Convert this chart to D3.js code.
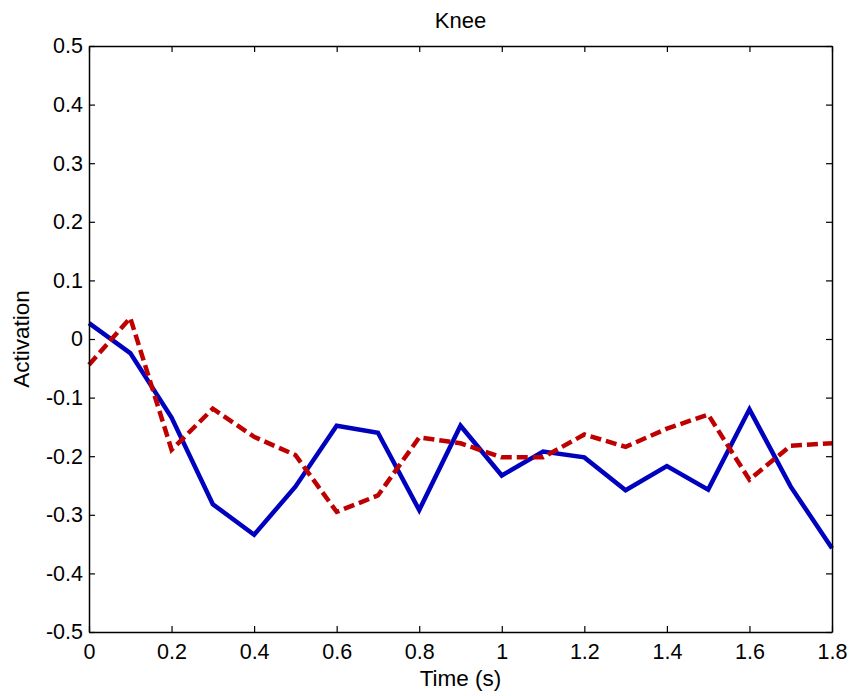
<!DOCTYPE html>
<html><head><meta charset="utf-8">
<script src="https://cdn.jsdelivr.net/npm/d3@7"></script>
<style>body{margin:0;background:#fff}svg{display:block}text{font-family:"Liberation Sans",Arial,sans-serif;fill:#000}</style>
</head><body><svg id="c" width="851" height="696"></svg>
<script>
const time = [0,0.1,0.2,0.3,0.4,0.5,0.6,0.7,0.8,0.9,1.0,1.1,1.2,1.3,1.4,1.5,1.6,1.7,1.8];
const solidSeries = [0.027,-0.024,-0.134,-0.282,-0.334,-0.252,-0.148,-0.160,-0.292,-0.148,-0.233,-0.192,-0.202,-0.258,-0.217,-0.257,-0.120,-0.252,-0.357];
const dashedSeries = [-0.044,0.036,-0.189,-0.119,-0.167,-0.198,-0.295,-0.267,-0.168,-0.178,-0.202,-0.202,-0.163,-0.184,-0.153,-0.129,-0.240,-0.182,-0.178];
const xTicks = [0,0.2,0.4,0.6,0.8,1,1.2,1.4,1.6,1.8];
const yTicks = [-0.5,-0.4,-0.3,-0.2,-0.1,0,0.1,0.2,0.3,0.4,0.5];

const svg = d3.select("#c");
const L=89, R=832, T=46, B=632;
const x = d3.scaleLinear().domain([0,1.8]).range([L,R]);
const y = d3.scaleLinear().domain([-0.5,0.5]).range([B,T]);
const fmt = d => String(+d.toFixed(1));

svg.append("rect").attr("x",L).attr("y",T).attr("width",R-L).attr("height",B-T).attr("fill","#fff");

const line = d3.line().x((d,i)=>x(time[i])).y(d=>y(d));
const g = svg.append("g");
g.append("path").datum(solidSeries).attr("d",line).attr("fill","none")
  .attr("stroke","#0000bf").attr("stroke-width",4.5).attr("stroke-linejoin","miter");
g.append("path").datum(dashedSeries).attr("d",line).attr("fill","none")
  .attr("stroke","#bf0000").attr("stroke-width",4.5).attr("stroke-dasharray","11,5");

const fs = "21.5px";
const axB = svg.append("g").attr("transform",`translate(0,${B})`)
  .call(d3.axisBottom(x).tickValues(xTicks).tickSizeInner(-6).tickSizeOuter(0).tickPadding(12).tickFormat(fmt));
const axT = svg.append("g").attr("transform",`translate(0,${T})`)
  .call(d3.axisTop(x).tickValues(xTicks).tickSizeInner(-6).tickSizeOuter(0).tickFormat(""));
const axL = svg.append("g").attr("transform",`translate(${L},0)`)
  .call(d3.axisLeft(y).tickValues(yTicks).tickSizeInner(-6).tickSizeOuter(0).tickPadding(6).tickFormat(fmt));
const axR = svg.append("g").attr("transform",`translate(${R},0)`)
  .call(d3.axisRight(y).tickValues(yTicks).tickSizeInner(-6).tickSizeOuter(0).tickFormat(""));
[axB,axT,axL,axR].forEach(a=>{
  a.selectAll("path").attr("stroke","#000").attr("stroke-width",1.5);
  a.selectAll("line").attr("stroke","#000").attr("stroke-width",1.2);
  a.selectAll("text").attr("font-family","Liberation Sans, Arial, sans-serif").attr("font-size",fs).attr("fill","#000");
});

svg.append("text").attr("x",(L+R)/2).attr("y",28).attr("text-anchor","middle").attr("font-size","22px").text("Knee");
svg.append("text").attr("x",(L+R)/2).attr("y",686).attr("text-anchor","middle").attr("font-size","22.5px").text("Time (s)");
svg.append("text").attr("transform",`translate(29,${(T+B)/2}) rotate(-90)`).attr("text-anchor","middle").attr("font-size","22.5px").text("Activation");
</script></body></html>
